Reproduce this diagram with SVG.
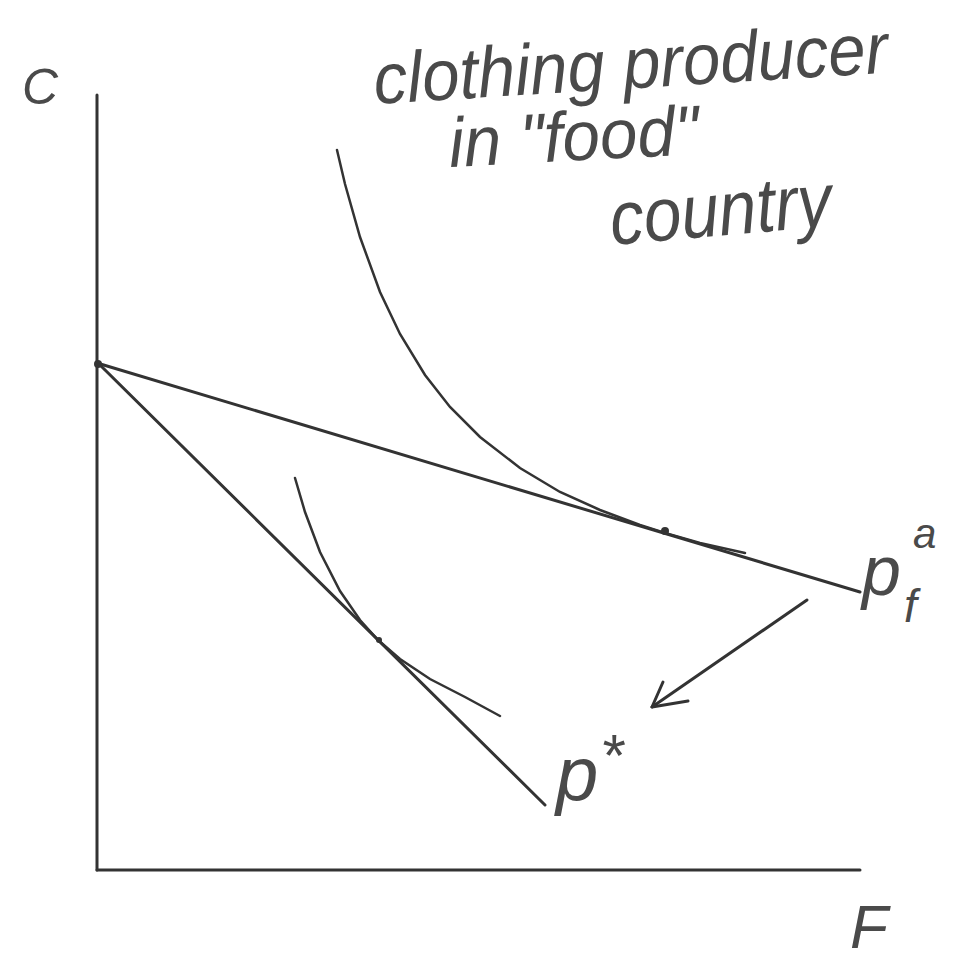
<svg xmlns="http://www.w3.org/2000/svg" width="964" height="965" viewBox="0 0 964 965">
<style>
.ln{fill:none;stroke:#333;stroke-width:3;stroke-linecap:round;stroke-linejoin:round}
.cv{fill:none;stroke:#333;stroke-width:2.5;stroke-linecap:round}
.hw{font-family:"Liberation Sans","DejaVu Sans",sans-serif;font-style:italic;fill:#4a4a4a}
.dot{fill:#333}
</style>
<rect width="964" height="965" fill="#fff"/>
<g id="axes">
<line class="ln" x1="97" y1="95" x2="97" y2="870"/>
<line class="ln" x1="97" y1="870" x2="860" y2="870"/>
</g>
<g id="connectors">
<line class="ln" x1="97" y1="363" x2="860" y2="592"/>
<line class="ln" x1="100" y1="365" x2="545" y2="805"/>
<line class="ln" x1="807" y1="600" x2="652" y2="707"/>
<polyline class="ln" points="663,682 652,707 688,701"/>
</g>
<g id="curve-upper">
<path class="cv" d="M337,150 L345,184 L360,237 L380,292 L400,334 L425,375 L450,407 L480,437 L520,468 L560,492 L600,510 L640,525 L665,533 L700,543 L745,553"/>
<circle class="dot" cx="665" cy="531" r="4"/>
</g>
<g id="curve-lower">
<path class="cv" d="M295,478 L305,512 L320,552 L340,591 L360,620 L378,640 L400,659 L430,679 L465,697 L500,716"/>
<circle class="dot" cx="379" cy="640" r="3"/>
</g>
<circle class="dot" cx="98" cy="364" r="4"/>
<g id="labels">
<text class="hw" x="22" y="104" font-size="50">C</text>
<text class="hw" x="850" y="948" font-size="62">F</text>
<text class="hw" transform="rotate(-3.5 375 104)" x="375" y="104" font-size="72" textLength="515" lengthAdjust="spacingAndGlyphs">clothing producer</text>
<text class="hw" transform="rotate(-3 450 167)" x="450" y="167" font-size="70" textLength="250" lengthAdjust="spacingAndGlyphs">in "food"</text>
<text class="hw" transform="rotate(-5 612 245)" x="612" y="245" font-size="76" textLength="222" lengthAdjust="spacingAndGlyphs">country</text>
<text class="hw" x="862" y="595" font-size="70">p</text>
<text class="hw" x="904" y="622" font-size="46">f</text>
<text class="hw" x="913" y="548" font-size="42">a</text>
<text class="hw" x="556" y="800" font-size="76">p</text>
<text class="hw" x="600" y="776" font-size="60">*</text>
</g>
</svg>
